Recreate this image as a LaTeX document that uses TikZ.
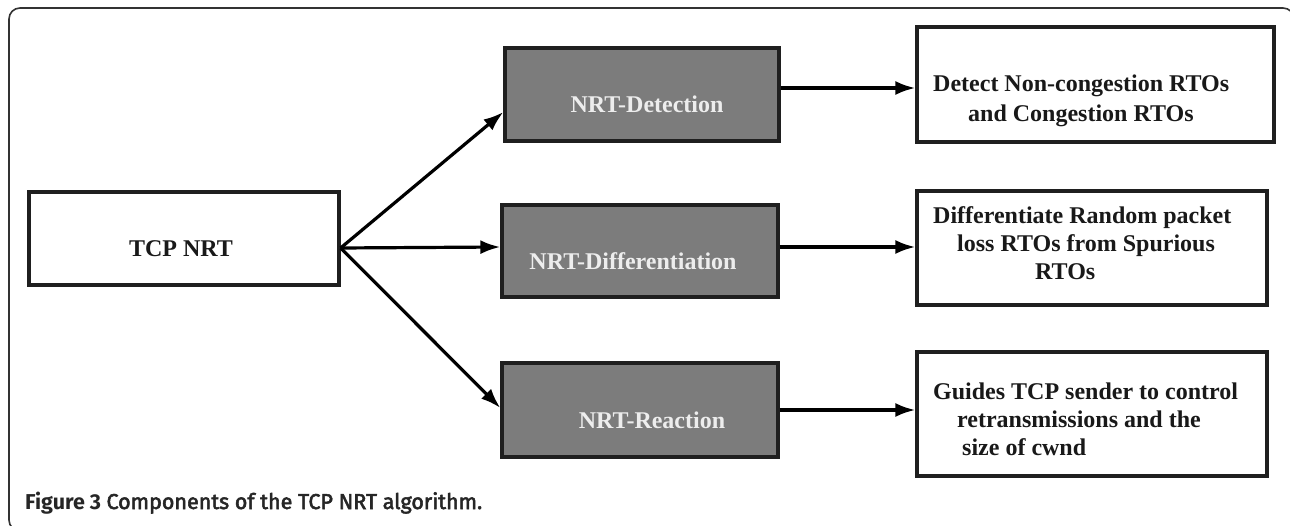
\documentclass[tikz,border=0pt]{standalone}
\usepackage{fontspec}
\setmainfont{Liberation Serif}
\newfontfamily\capfont{Fira Sans}
\newfontfamily\capmed[FakeBold=2.5]{Fira Sans}
\usetikzlibrary{arrows.meta}

\definecolor{boxgray}{HTML}{7C7C7C}
\definecolor{labelgray}{HTML}{EDEDED}
\definecolor{framegray}{HTML}{333333}

\tikzset{
  plainbox/.style={draw=black!88, line width=3.2pt, fill=white, inner sep=0pt},
  graybox/.style={draw=black!88, line width=3.2pt, fill=boxgray, inner sep=0pt},
  boxlabel/.style={font=\fontsize{24}{29}\selectfont\bfseries, inner sep=0pt},
  graylabel/.style={boxlabel, text=labelgray, anchor=base},
  darklabel/.style={boxlabel, text=black!90, anchor=base},
  notelabel/.style={boxlabel, text=black!90, align=left, anchor=north west},
  arr/.style={line width=3.2pt, draw=black, -{Latex[length=20pt,width=14pt]}},
}

\begin{document}
\begin{tikzpicture}[x=1pt, y=-1pt]
  % page area and outer frame
  \useasboundingbox (0,0) rectangle (1290,526);
  \fill[white] (0,0) rectangle (1290,526);
  \draw[framegray, line width=1.6pt, rounded corners=11pt] (9,8) rectangle (1294,531);

  % root component
  \node[plainbox, minimum width=310pt, minimum height=93pt] (tcp) at (184,238.5) {};
  \node[darklabel] (tcpt) at (181,257) {TCP NRT};

  % the three stages
  \node[graybox, minimum width=274pt, minimum height=93pt] (det) at (642,94.5) {};
  \node[graybox, minimum width=276pt, minimum height=92pt] (dif) at (640,251) {};
  \node[graybox, minimum width=276pt, minimum height=94pt] (rea) at (640,410) {};
  \node[graylabel] (dett) at (647,113) {NRT-Detection};
  \node[graylabel] (dift) at (633,270) {NRT-Differentiation};
  \node[graylabel] (reat) at (652,428) {NRT-Reaction};

  % what each stage does
  \node[plainbox, minimum width=357pt, minimum height=115pt] (detn) at (1095.5,84.5) {};
  \node[plainbox, minimum width=350pt, minimum height=114pt] (difn) at (1092,248) {};
  \node[plainbox, minimum width=350pt, minimum height=124pt] (rean) at (1092,414) {};
  \node[notelabel, font=\fontsize{24}{30}\selectfont\bfseries] (detnt) at (933,75)
    {Detect Non-congestion RTOs\\\hspace*{35pt}and Congestion RTOs};
  \node[notelabel, font=\fontsize{24}{28}\selectfont\bfseries] (difnt) at (933,206)
    {Differentiate Random packet\\\hspace*{24pt}loss RTOs from Spurious\\\hspace*{102pt}RTOs};
  \node[notelabel, font=\fontsize{24}{28}\selectfont\bfseries] (reant) at (933,383)
    {Guides TCP sender to control\\\hspace*{24pt}retransmissions and the\\\hspace*{29pt}size of cwnd};

  % connectors from the root
  \coordinate (fork) at ([yshift=-9.5pt]tcp.east);
  \draw[arr] (fork) -- ([yshift=-17.5pt]det.west);
  \draw[arr] (fork) -- ([yshift=4pt]dif.west);
  \draw[arr] (fork) -- ([yshift=2pt]rea.west);

  % connectors to the descriptions
  \coordinate (o1) at ([yshift=6.5pt]det.east);
  \coordinate (o2) at ([yshift=4pt]dif.east);
  \coordinate (o3) at (rea.east);
  \draw[arr] (o1) -- (o1 -| detn.west);
  \draw[arr] (o2) -- (o2 -| difn.west);
  \draw[arr] (o3) -- (o3 -| rean.west);

  % caption
  \node[anchor=base west, inner sep=0pt, font=\fontsize{21.5}{25}\selectfont, text=black!85] (cap) at (25,509)
    {{\capfont\bfseries Figure 3} {\capmed Components of the TCP NRT algorithm.}};
\end{tikzpicture}
\end{document}
